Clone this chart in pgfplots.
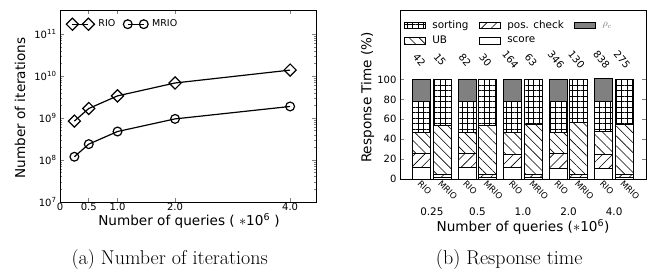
\documentclass[border=0pt]{standalone}
\usepackage{fontspec}
\setsansfont{DejaVu Sans}
\usepackage{pgfplots}
\usepackage{pgfplotstable}
\pgfplotsset{compat=1.18}
\usetikzlibrary{patterns.meta}

\pgfplotstableread{
x     rio
0.25  8.5e8
0.5   1.7e9
1.0   3.4e9
2.0   6.9e9
4.0   1.4e10
}\iterrio
\pgfplotstableread{
x     mrio
0.25  1.2e8
0.5   2.4e8
1.0   4.8e8
2.0   9.6e8
4.0   1.9e9
}\itermrio
\pgfplotstableread{
x      score  pos   ub    sort  rho
-0.225 11.4   14.4  20.7  31.1  22.4
0.225  1.5    3.2   49.3  46.0  0
0.775  11.3   14.5  20.7  31.3  22.2
1.225  1.5    3.2   49.3  46.0  0
1.775  11.5   13.5  21.5  31.2  22.3
2.225  1.5    3.2   50.5  44.8  0
2.775  10.7   15.1  21.2  30.8  22.2
3.225  1.5    3.2   52.5  42.8  0
3.775  10.8   13.9  23.0  29.9  23.4
4.225  1.5    3.2   50.2  45.1  0
}\resp

\newcommand{\tfont}{\sffamily\fontsize{10}{12}\selectfont}
\newcommand{\lfont}{\sffamily\fontsize{13.6}{16}\selectfont}

\begin{document}
\begin{tikzpicture}
\path[use as bounding box] (0pt,0pt) rectangle (650pt,-272pt);

% ---------------- left panel ----------------
\begin{axis}[
  at={(60pt,-202pt)}, anchor=south west,
  scale only axis, width=256pt, height=192pt,
  xmin=0, xmax=4.45,
  ymode=log, ymin=1e7, ymax=3.8e11,
  xtick={0,0.5,1,2,4}, xticklabels={0,0.5,1.0,2.0,4.0},
  ytick={1e7,1e8,1e9,1e10,1e11},
  yticklabels={10\textsuperscript{7},10\textsuperscript{8},10\textsuperscript{9},10\textsuperscript{10},10\textsuperscript{11}},
  tick align=inside, major tick length=4pt, minor tick length=2pt,
  every tick label/.append style={font=\tfont},
  xticklabel style={inner sep=1pt},
  axis line style={line width=0.8pt},
  every tick/.append style={line width=0.6pt},
  clip=false,
  legend columns=2, legend cell align=left,
  legend style={at={(0.02,0.965)}, anchor=north west, draw=none, fill=none,
    font=\sffamily\fontsize{9.5}{11}\selectfont, inner sep=1pt,
    /tikz/every odd column/.append style={column sep=2pt},
    /tikz/every even column/.append style={column sep=6pt}},
  legend image code/.code={\draw[#1] plot coordinates {(0pt,0pt) (16pt,0pt)};},
]
\addplot[black, line width=1.2pt, mark=square, mark size=4.3pt,
  mark options={rotate=45, fill=white, solid}] table[x=x,y=rio] {\iterrio};
\addlegendentry{RIO}
\addplot[black, line width=1.2pt, mark=o, mark size=4.4pt,
  mark options={fill=white, solid}] table[x=x,y=mrio] {\itermrio};
\addlegendentry{MRIO}
\end{axis}

% ---------------- right panel ----------------
\begin{axis}[
  at={(400pt,-179pt)}, anchor=south west,
  scale only axis, width=246pt, height=169pt,
  xmin=-0.7, xmax=4.7, ymin=0, ymax=170,
  ybar stacked, bar width=0.395,
  ytick={0,20,40,60,80,100},
  xtick={-0.225,0.225,0.775,1.225,1.775,2.225,2.775,3.225,3.775,4.225},
  xticklabels={RIO,MRIO,RIO,MRIO,RIO,MRIO,RIO,MRIO,RIO,MRIO},
  x tick label style={rotate=-45, anchor=north west, inner sep=0.5pt,
    font=\sffamily\fontsize{8.5}{10}\selectfont, xshift=0pt},
  major x tick style={draw=none},
  tick align=inside, major tick length=4pt,
  ytick pos=both,
  every y tick label/.append style={font=\tfont},
  /pgf/number format/assume math mode=true,
  axis line style={line width=0.8pt},
  clip=false,
  legend columns=3, legend cell align=left,
  legend style={at={(0.01,0.955)}, anchor=north west, draw=none, fill=none,
    font=\sffamily\fontsize{10.4}{12}\selectfont, inner sep=1pt,
    row sep=2pt,
    /tikz/every odd column/.append style={column sep=5pt},
    /tikz/every even column/.append style={column sep=8pt}},
]
\addlegendimage{legend image code/.code={\draw[line width=0.7pt,pattern={Hatch[angle=0,distance=5.5pt,line width=0.6pt]}] (0pt,-3.3pt) rectangle (21pt,3.3pt);}}
\addlegendentry{sorting}
\addlegendimage{legend image code/.code={\draw[line width=0.7pt,pattern={Lines[angle=45,distance=7pt,line width=0.6pt]}] (0pt,-3.3pt) rectangle (21pt,3.3pt);}}
\addlegendentry{pos. check}
\addlegendimage{legend image code/.code={\draw[line width=0.7pt,fill=black!50] (0pt,-3.3pt) rectangle (21pt,3.3pt);}}
\addlegendentry{\textcolor{black!55}{$\rho_c$}}
\addlegendimage{legend image code/.code={\draw[line width=0.7pt,pattern={Lines[angle=-45,distance=7pt,line width=0.6pt]}] (0pt,-3.3pt) rectangle (21pt,3.3pt);}}
\addlegendentry{UB}
\addlegendimage{legend image code/.code={\draw[line width=0.7pt,fill=white] (0pt,-3.3pt) rectangle (21pt,3.3pt);}}
\addlegendentry{score}

\addplot[forget plot, draw=black, line width=0.8pt, fill=white] table[x=x,y=score] {\resp};
\addplot[forget plot, draw=black, line width=0.8pt, pattern={Lines[angle=45,distance=7pt,line width=0.6pt]}] table[x=x,y=pos] {\resp};
\addplot[forget plot, draw=black, line width=0.8pt, pattern={Lines[angle=-45,distance=7pt,line width=0.6pt]}] table[x=x,y=ub] {\resp};
\addplot[forget plot, draw=black, line width=0.8pt, pattern={Hatch[angle=0,distance=5.5pt,line width=0.6pt]}] table[x=x,y=sort] {\resp};
\addplot[forget plot, draw=black, line width=0.8pt, fill=black!50] table[x=x,y=rho] {\resp};

% run-time labels above bars
\foreach \xx/\tt in {-0.225/42,0.225/15,0.775/82,1.225/30,1.775/164,2.225/63,2.775/346,3.225/130,3.775/838,4.225/275}{
  \edef\temp{\noexpand\node[rotate=-50, inner sep=0pt, font=\noexpand\sffamily\noexpand\fontsize{10}{12}\noexpand\selectfont] at (axis cs:\xx-0.05,120) {\tt};}
  \temp
}
% group labels
\foreach \xx/\tt in {0/0.25,1/0.5,2/1.0,3/2.0,4/4.0}{
  \edef\temp{\noexpand\node[anchor=base, font=\noexpand\sffamily\noexpand\fontsize{10.4}{12}\noexpand\selectfont] at (axis cs:\xx,0) [yshift=-37pt] {\tt};}
  \temp
}
\end{axis}

% axis labels
\node[rotate=90, font=\lfont] at (20pt,-108pt) {Number of iterations};
\node[anchor=base, font=\lfont] at (189pt,-226pt) {Number of queries ( $\ast$10\textsuperscript{6} )};
\node[rotate=90, font=\lfont] at (367.5pt,-97.5pt) {Response Time (\%)};
\node[anchor=base, font=\lfont] at (523pt,-232pt) {Number of queries ($\ast$10\textsuperscript{6})};

% captions
\node[anchor=base, font=\rmfamily\fontsize{20}{24}\selectfont] at (169.7pt,-265pt) {(a) Number of iterations};
\node[anchor=base, font=\rmfamily\fontsize{20}{24}\selectfont] at (509.2pt,-265pt) {(b) Response time};
\end{tikzpicture}
\end{document}
